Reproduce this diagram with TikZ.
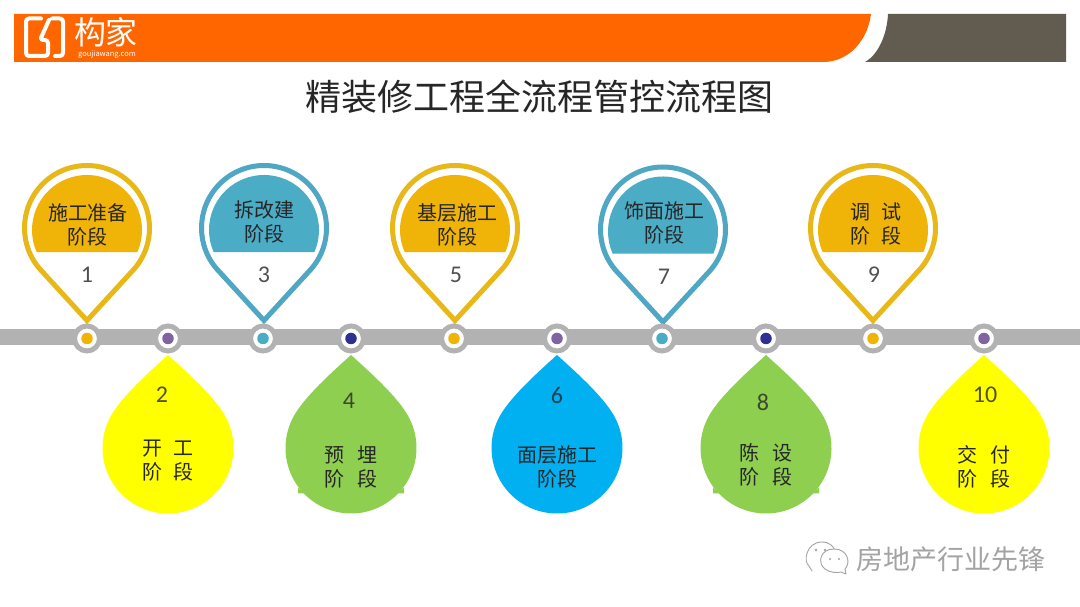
\documentclass[tikz,border=0pt]{standalone}
\usepackage{fontspec}
\setmainfont{Noto Sans CJK SC}
\newfontfamily\numfont{Carlito}
\usetikzlibrary{calc}
\definecolor{barorange}{HTML}{FF6600}
\definecolor{bargray}{HTML}{625C50}
\definecolor{railgray}{HTML}{B2B2B2}
\definecolor{ringgold}{HTML}{E8B818}
\definecolor{fillgold}{HTML}{F0B307}
\definecolor{ringblue}{HTML}{4FA7C4}
\definecolor{fillblue}{HTML}{4BACC6}
\definecolor{dotpurple}{HTML}{8064A2}
\definecolor{dotnavy}{HTML}{2E3192}
\definecolor{dropyellow}{HTML}{FFFF00}
\definecolor{dropgreen}{HTML}{8FCF50}
\definecolor{dropblue}{HTML}{00B0F0}
\definecolor{inktext}{HTML}{262626}
\definecolor{marktext}{HTML}{A3A3A3}
\tikzset{
  x=1pt,y=1pt,
  rail/.style={fill=railgray,draw=none},
  hubnode/.style={circle,draw=railgray,line width=5pt,fill=white,minimum size=25pt,inner sep=0pt},
  dotnode/.style={circle,fill=#1,draw=none,minimum size=11.5pt,inner sep=0pt},
  labeltext/.style={font=\fontsize{20}{24}\selectfont,text=inktext,align=center,inner sep=0pt},
  numtext/.style={font=\numfont\fontsize{24}{24}\selectfont,text=#1,inner sep=0pt},
}
% #1 x, #2 ring, #3 fill, #4 vertical offset
\newcommand{\pinshape}[4]{%
  \begin{scope}[yshift=#4]
  \draw[#2,line width=5pt,fill=white,line join=miter] (#1,286.5) -- ($(#1,379)+(-44.3:62.5)$) arc[start angle=-44.3,end angle=224.3,radius=62.5] -- cycle;
  \fill[#3] ($(#1,377)+(-23.6:55)$) arc[start angle=-23.6,end angle=203.6,radius=55] -- cycle;
  \end{scope}
}
% #1 x, #2 fill
\newcommand{\dropshape}[2]{%
  \fill[#2] (#1,252) .. controls ($(#1,252)+(20,-18)$) and ($(#1,252)+(45.7,-41.2)$) .. ($(#1,159)+(30:65.5)$) arc[start angle=30,end angle=-210,radius=65.5] .. controls ($(#1,252)+(-45.7,-41.2)$) and ($(#1,252)+(-20,-18)$) .. (#1,252) -- cycle;
}
% #1 x, small corners left on the green drops
\newcommand{\dropnubs}[1]{%
  \fill[dropgreen] ($(#1,113.5)+(53,0)$) -- ($(#1,113.5)+(46,0)$) -- ($(#1,113.5)+(53,6)$) -- cycle;
  \fill[dropgreen] ($(#1,113.5)+(-53,0)$) -- ($(#1,113.5)+(-46,0)$) -- ($(#1,113.5)+(-53,6)$) -- cycle;
}
\begin{document}
\begin{tikzpicture}
\useasboundingbox (0,0) rectangle (1080,607);
\fill[white] (0,0) rectangle (1080,607);
% header
\fill[barorange] (14,593) -- (871,593) .. controls (868,568) and (850,545) .. (823,545) -- (14,545) -- cycle;
\fill[bargray] (888,593) -- (1066,593) -- (1066,545) -- (865,545) .. controls (878,552) and (887,572) .. (888,593) -- cycle;
% logo
\draw[white,line width=4pt,line cap=round,line join=round,rounded corners=3pt] (41,588.5) -- (26,588.5) -- (26,551) -- (48,551) -- (48,567) -- (40,567) -- (49,587);
\draw[white,line width=4pt,line cap=round,line join=round,rounded corners=3pt] (52,588.5) -- (63,588.5) -- (63,551) -- (55,551);
\node[text=white,font=\fontsize{32}{32}\selectfont,inner sep=0pt] (logotext) at (106,574.5) {构家};
\node[text=white,font=\fontsize{7.5}{7.5}\selectfont,inner sep=0pt] (logourl) at (107,552.5) {goujiawang.com};
% title
\node[text=inktext,font=\fontsize{36}{36}\selectfont,inner sep=0pt] (title) at (539,510) {精装修工程全流程管控流程图};
% rail
\fill[rail] (0,262) rectangle (1080,278);
% pins
\pinshape{87}{ringgold}{fillgold}{0pt}
\pinshape{264}{ringblue}{fillblue}{0pt}
\pinshape{455}{ringgold}{fillgold}{0pt}
\pinshape{663}{ringblue}{fillblue}{-1.5pt}
\pinshape{873}{ringgold}{fillgold}{0pt}
% drops
\dropshape{168}{dropyellow}
\dropshape{351}{dropgreen}
\dropshape{557}{dropblue}
\dropshape{766}{dropgreen}
\dropshape{984}{dropyellow}
\dropnubs{351}
\dropnubs{766}
% hubs
\foreach \n/\hx/\c in {1/87/fillgold,2/168/dotpurple,3/263/fillblue,4/351/dotnavy,5/454/fillgold,6/557/dotpurple,7/662/fillblue,8/766/dotnavy,9/873/fillgold,10/984/dotpurple}{
  \node[hubnode] (hub\n) at (\hx,268.5) {};
  \node[dotnode=\c] (dot\n) at (\hx,268.5) {};
}
% pin labels
\node[labeltext] (label1) at (88,382) {施工准备\\阶段};
\node[numtext=inktext!80] (num1) at (87,332) {1};
\node[labeltext] (label3) at (264,385) {拆改建\\阶段};
\node[numtext=inktext!80] (num3) at (264,332) {3};
\node[labeltext] (label5) at (457,382) {基层施工\\阶段};
\node[numtext=inktext!80] (num5) at (456,332) {5};
\node[labeltext] (label7) at (664,384) {饰面施工\\阶段};
\node[numtext=inktext!80] (num7) at (664,330) {7};
\node[labeltext] (label9) at (876,383) {调\hspace{11pt}试\\阶\hspace{11pt}段};
\node[numtext=inktext!80] (num9) at (874,332) {9};
% drop labels
\node[numtext=inktext!80!dropyellow] (num2) at (162,212) {2};
\node[labeltext] (label2) at (168,146) {开\hspace{11pt}工\\阶\hspace{11pt}段};
\node[numtext=inktext!80!dropgreen] (num4) at (349,206) {4};
\node[labeltext] (label4) at (351,140) {预\hspace{13pt}埋\\阶\hspace{13pt}段};
\node[numtext=inktext!80!dropblue] (num6) at (557,212) {6};
\node[labeltext] (label6) at (557,140) {面层施工\\阶段};
\node[numtext=inktext!80!dropgreen] (num8) at (763,205) {8};
\node[labeltext] (label8) at (766,142) {陈\hspace{13pt}设\\阶\hspace{13pt}段};
\node[numtext=inktext!80!dropyellow] (num10) at (985,212) {10};
\node[labeltext] (label10) at (984,140) {交\hspace{13pt}付\\阶\hspace{13pt}段};
% watermark
\node[text=marktext,font=\fontsize{27}{27}\selectfont,inner sep=0pt] (mark) at (951,48) {房地产行业先锋};
\draw[marktext,line width=0.9pt,line join=round] (812,36) -- (809,41) .. controls (803,45) and (806,65) .. (822,65) .. controls (830,65) and (834,60) .. (835,56);
\draw[marktext,line width=0.9pt,line join=round,fill=white] (846,33) -- (845,38) .. controls (851,44) and (848,58) .. (834,58) .. controls (820,58) and (817,44) .. (825,38) .. controls (830,34) and (838,34) .. (841,35) -- cycle;
\fill[marktext] (816,57) circle (1.4) (825,57) circle (1.4) (830,48) circle (1.2) (839,48) circle (1.2);
\end{tikzpicture}
\end{document}
